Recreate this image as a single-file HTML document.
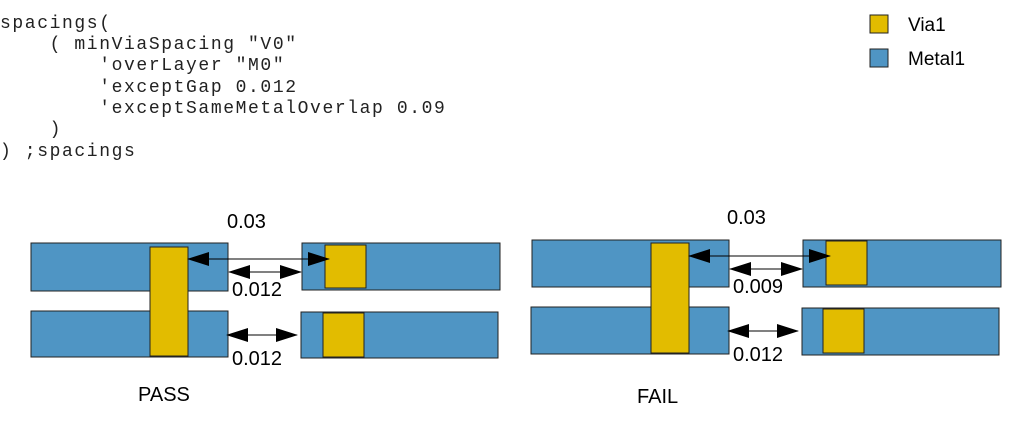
<!DOCTYPE html>
<html><head><meta charset="utf-8"><style>
html,body{margin:0;padding:0;background:#fff;width:1013px;height:441px;overflow:hidden}
svg{display:block}
.c{font-family:"Liberation Mono",monospace;font-size:18px;letter-spacing:1.6px;fill:#222}
.s{font-family:"Liberation Sans",sans-serif;font-size:20px;fill:#000}
.l{font-family:"Liberation Sans",sans-serif;font-size:19px;fill:#000}
.m{fill:#4f95c4;stroke:#222;stroke-width:1}
.v{fill:#e2bc00;stroke:#222;stroke-width:1}
</style></head><body>
<svg width="1013" height="441" viewBox="0 0 1013 441" xmlns="http://www.w3.org/2000/svg">
<defs>
<marker id="a" markerWidth="22" markerHeight="14" refX="21" refY="7" orient="auto-start-reverse" markerUnits="userSpaceOnUse">
<path d="M0,0 L22,7 L0,14 Z" fill="#000"/></marker>
</defs>
<g class="c">
<text x="0" y="28">spacings(</text>
<text x="0" y="49" xml:space="preserve">    ( minViaSpacing "V0"</text>
<text x="0" y="70" xml:space="preserve">        'overLayer "M0"</text>
<text x="0" y="92" xml:space="preserve">        'exceptGap 0.012</text>
<text x="0" y="113" xml:space="preserve">        'exceptSameMetalOverlap 0.09</text>
<text x="0" y="134" xml:space="preserve">    )</text>
<text x="0" y="156" xml:space="preserve">) ;spacings</text>
</g>
<rect class="v" x="870" y="15" width="18" height="18"/>
<text class="l" x="908" y="31">Via1</text>
<rect class="m" x="870" y="49" width="18" height="18"/>
<text class="l" x="908" y="65">Metal1</text>

<!-- PASS -->
<rect class="m" x="31" y="243" width="197" height="48"/>
<rect class="m" x="31" y="311" width="197" height="46"/>
<rect class="v" x="150" y="247" width="38" height="109"/>
<rect class="m" x="302" y="243" width="198" height="47"/>
<rect class="v" x="325" y="245" width="41" height="43"/>
<rect class="m" x="301" y="312" width="197" height="46"/>
<rect class="v" x="323" y="313" width="41" height="44"/>
<line x1="188" y1="259" x2="329" y2="259" stroke="#000" marker-start="url(#a)" marker-end="url(#a)"/>
<line x1="229" y1="272" x2="301" y2="272" stroke="#000" marker-start="url(#a)" marker-end="url(#a)"/>
<line x1="227" y1="335" x2="297" y2="335" stroke="#000" marker-start="url(#a)" marker-end="url(#a)"/>
<text class="s" x="227" y="228">0.03</text>
<text class="s" x="232" y="296">0.012</text>
<text class="s" x="232" y="365">0.012</text>
<text class="s" x="138" y="401">PASS</text>

<!-- FAIL -->
<rect class="m" x="532" y="240" width="197" height="47"/>
<rect class="m" x="531" y="307" width="198" height="47"/>
<rect class="v" x="651" y="243" width="38" height="110"/>
<rect class="m" x="803" y="240" width="198" height="47"/>
<rect class="v" x="826" y="241" width="41" height="44"/>
<rect class="m" x="802" y="308" width="197" height="47"/>
<rect class="v" x="823" y="309" width="41" height="44"/>
<line x1="689" y1="256" x2="830" y2="256" stroke="#000" marker-start="url(#a)" marker-end="url(#a)"/>
<line x1="730" y1="269" x2="802" y2="269" stroke="#000" marker-start="url(#a)" marker-end="url(#a)"/>
<line x1="728" y1="331" x2="798" y2="331" stroke="#000" marker-start="url(#a)" marker-end="url(#a)"/>
<text class="s" x="727" y="224">0.03</text>
<text class="s" x="733" y="293">0.009</text>
<text class="s" x="733" y="361">0.012</text>
<text class="s" x="637" y="403">FAIL</text>
</svg>
</body></html>
